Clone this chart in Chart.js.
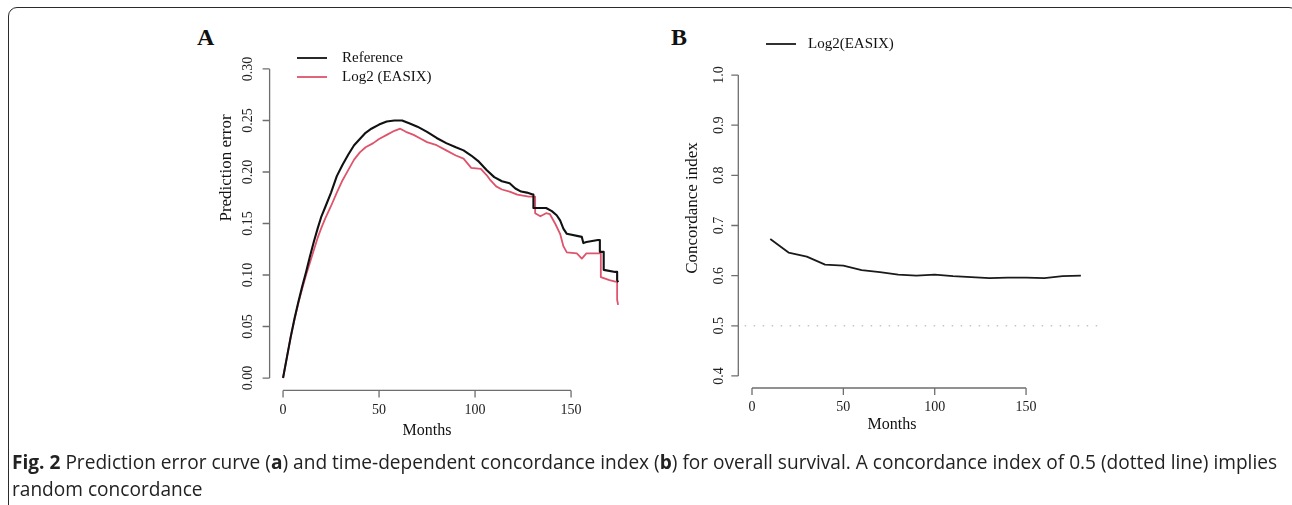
<!DOCTYPE html>
<html>
<head>
<meta charset="utf-8">
<title>Prediction error and concordance index</title>
<script src="https://cdn.jsdelivr.net/npm/chart.js"></script>
<style>
    body {
        margin: 0;
        width: 1292px;
        height: 505px;
        overflow: hidden;
        position: relative;
        background: #fff;
    }
    .frame {
        position: absolute;
        left: 8px;
        top: 7px;
        width: 1290px;
        height: 530px;
        border: 1.5px solid #2b2b2b;
        border-radius: 9px;
        box-sizing: border-box;
    }
    .panel {
        position: absolute;
        top: 20px;
        width: 480px;
        height: 430px;
    }
    #panelA { left: 180px; }
    #panelB { left: 660px; }
    .letter {
        position: absolute;
        top: 24px;
        font: bold 24px "Liberation Serif", serif;
        color: #111;
    }
    .caption {
        position: absolute;
        left: 12px;
        top: 449px;
        font: 19.1px "Open Sans", sans-serif;
        line-height: 27px;
        color: #222;
        white-space: nowrap;
    }
</style>
</head>
<body>
<div class="frame"></div>
<div class="letter" style="left:197px">A</div>
<div class="letter" style="left:671px">B</div>
<div class="panel" id="panelA"><canvas id="chartA"></canvas></div>
<div class="panel" id="panelB"><canvas id="chartB"></canvas></div>
<div class="caption"><b>Fig. 2</b> Prediction error curve (<b>a</b>) and time-dependent concordance index (<b>b</b>) for overall survival. A concordance index of 0.5 (dotted line) implies<br>random concordance</div>

<script>
// panel A: prediction error curves (repeated month = vertical drop of the step curve)
const refMonths = [0, 2, 4, 6, 8, 10, 12, 14, 16, 18, 20, 22, 25, 28, 31, 34, 37, 40, 43, 46,
    50, 54, 58, 62, 66, 70, 75, 80, 85, 90, 94, 98, 102, 106, 110, 114, 118, 121, 124, 127,
    130.4, 130.4, 137, 140, 142.5, 144.3, 146, 147.8, 155.6, 156.4, 158, 164, 165, 165, 167, 167, 173, 174, 174, 174.5];
const refError = [0, 0.020, 0.040, 0.058, 0.074, 0.089, 0.103, 0.118, 0.132, 0.145, 0.157, 0.166, 0.180, 0.196, 0.207, 0.217, 0.226, 0.232, 0.238, 0.242,
    0.246, 0.249, 0.250, 0.250, 0.247, 0.244, 0.239, 0.233, 0.228, 0.224, 0.221, 0.216, 0.210, 0.202, 0.195, 0.191, 0.189, 0.184, 0.181, 0.180,
    0.178, 0.165, 0.165, 0.162, 0.158, 0.153, 0.145, 0.140, 0.137, 0.131, 0.132, 0.134, 0.134, 0.1225, 0.1225, 0.105, 0.103, 0.103, 0.095, 0.093];

const easixMonths = [0, 2, 4, 6, 8, 10, 12, 14, 16, 18, 20, 22, 25, 28, 31, 34, 37, 40, 43, 47,
    50, 54, 58, 61, 64, 68, 72, 75, 80, 85, 90, 94, 98, 103, 106, 108, 111, 114, 118, 122,
    125, 128, 131.3, 131.3, 134, 137, 139, 141.7, 144.3, 146, 147.8, 153, 155.6, 158, 165.5, 165.5, 170, 173, 174, 174, 174.5];
const easixError = [0, 0.020, 0.040, 0.057, 0.073, 0.087, 0.100, 0.112, 0.124, 0.136, 0.146, 0.155, 0.167, 0.180, 0.192, 0.202, 0.212, 0.219, 0.224, 0.228,
    0.232, 0.236, 0.240, 0.242, 0.239, 0.236, 0.232, 0.229, 0.226, 0.221, 0.216, 0.213, 0.204, 0.203, 0.197, 0.192, 0.186, 0.183, 0.181, 0.178,
    0.177, 0.176, 0.176, 0.160, 0.157, 0.160, 0.159, 0.150, 0.140, 0.128, 0.122, 0.121, 0.116, 0.121, 0.121, 0.098, 0.095, 0.0935, 0.0935, 0.076, 0.071];

const errorTicks = [0, 0.05, 0.10, 0.15, 0.20, 0.25, 0.30];
const monthTicks = [0, 50, 100, 150];

// panel B: time-dependent concordance index
const cMonths = [10, 20, 30, 40, 50, 60, 70, 80, 90, 100, 110, 120, 130, 140, 150, 160, 170, 180];
const cIndex = [0.673, 0.646, 0.638, 0.622, 0.620, 0.611, 0.607, 0.602, 0.600, 0.602, 0.599, 0.597, 0.595, 0.596, 0.596, 0.595, 0.599, 0.600];
const randomMonths = [-4, 192];
const randomIndex = 0.5;
const cTicks = [0.4, 0.5, 0.6, 0.7, 0.8, 0.9, 1.0];

const SERIF = '"Liberation Serif", "Times New Roman", serif';
const RED = '#DF536B';

const toXY = (xs, ys) => xs.map((x, i) => ({ x: x, y: ys[i] }));

// base-R style axes: lines span first..last tick, labels parallel to axis
const rAxes = {
    id: 'rAxes',
    afterDraw(chart, args, o) {
        const { ctx, chartArea: ca } = chart;
        const x = chart.scales.x, y = chart.scales.y;
        ctx.save();
        ctx.strokeStyle = '#6e6e6e';
        ctx.lineWidth = 1.3;
        ctx.fillStyle = '#222';
        ctx.font = '14px ' + SERIF;
        ctx.textAlign = 'center';
        ctx.textBaseline = 'middle';

        // y axis
        const yp = o.yTicks.map(v => y.getPixelForValue(v));
        ctx.beginPath();
        ctx.moveTo(ca.left, yp[0]);
        ctx.lineTo(ca.left, yp[yp.length - 1]);
        yp.forEach(p => { ctx.moveTo(ca.left, p); ctx.lineTo(ca.left - 7, p); });
        // x axis
        const xp = o.xTicks.map(v => x.getPixelForValue(v));
        ctx.moveTo(xp[0], ca.bottom);
        ctx.lineTo(xp[xp.length - 1], ca.bottom);
        xp.forEach(p => { ctx.moveTo(p, ca.bottom); ctx.lineTo(p, ca.bottom + 7); });
        ctx.stroke();

        yp.forEach((p, i) => {
            ctx.save();
            ctx.translate(ca.left - o.yLabelGap, p);
            ctx.rotate(-Math.PI / 2);
            ctx.fillText(o.yFormat(o.yTicks[i]), 0, 0);
            ctx.restore();
        });
        xp.forEach((p, i) => ctx.fillText(String(o.xTicks[i]), p, ca.bottom + o.xLabelGap));

        // titles
        ctx.font = '16px ' + SERIF;
        ctx.fillStyle = '#111';
        ctx.fillText('Months', o.xTitle[0], o.xTitle[1]);
        ctx.font = '17px ' + SERIF;
        ctx.save();
        ctx.translate(o.yTitle[0], o.yTitle[1]);
        ctx.rotate(-Math.PI / 2);
        ctx.fillText(o.yTitleText, 0, 0);
        ctx.restore();

        // legend
        ctx.textAlign = 'left';
        ctx.font = '15px ' + SERIF;
        o.legend.forEach((it, i) => {
            const ds = chart.data.datasets[i];
            ctx.strokeStyle = ds.borderColor;
            ctx.lineWidth = 1.8;
            ctx.beginPath();
            ctx.moveTo(it.x, it.y);
            ctx.lineTo(it.x + 30, it.y);
            ctx.stroke();
            ctx.fillText(ds.label, it.x + it.gap, it.y);
        });
        ctx.restore();
    }
};

const baseOptions = {
    responsive: true,
    maintainAspectRatio: false,
    animation: false,
    events: [],
    plugins: { legend: { display: false }, tooltip: { enabled: false } },
    elements: { point: { radius: 0 }, line: { borderJoinStyle: 'round' } }
};

new Chart(document.getElementById('chartA'), {
    type: 'line',
    data: {
        datasets: [
            { label: 'Reference', data: toXY(refMonths, refError), borderColor: '#111', borderWidth: 2.1 },
            { label: 'Log2 (EASIX)', data: toXY(easixMonths, easixError), borderColor: RED, borderWidth: 1.8 }
        ]
    },
    options: {
        ...baseOptions,
        layout: { padding: { left: 89.6, right: 27.5, top: 36.6, bottom: 59.6 } },
        scales: {
            x: { type: 'linear', display: false, min: -7, max: 182 },
            y: { type: 'linear', display: false, min: -0.012, max: 0.312 }
        },
        plugins: {
            ...baseOptions.plugins,
            rAxes: {
                yTicks: errorTicks, xTicks: monthTicks,
                yFormat: v => v.toFixed(2),
                yLabelGap: 21, xLabelGap: 20,
                xTitle: [247, 411], yTitle: [47, 148], yTitleText: 'Prediction error',
                legend: [{ x: 117, y: 38, gap: 45 }, { x: 117, y: 57, gap: 45 }]
            }
        }
    },
    plugins: [rAxes]
});

new Chart(document.getElementById('chartB'), {
    type: 'line',
    data: {
        datasets: [
            { label: 'Log2(EASIX)', data: toXY(cMonths, cIndex), borderColor: '#1a1a1a', borderWidth: 1.8 },
            { label: 'random', data: randomMonths.map(m => ({ x: m, y: randomIndex })), borderColor: '#c4c4c4', borderWidth: 1.4, borderDash: [1.5, 7.5] }
        ]
    },
    options: {
        ...baseOptions,
        layout: { padding: { left: 78.3, right: 37.2, top: 43, bottom: 62 } },
        scales: {
            x: { type: 'linear', display: false, min: -7.5, max: 192 },
            y: { type: 'linear', display: false, min: 0.376, max: 1.024 }
        },
        plugins: {
            ...baseOptions.plugins,
            rAxes: {
                yTicks: cTicks, xTicks: monthTicks,
                yFormat: v => v.toFixed(1),
                yLabelGap: 19, xLabelGap: 19,
                xTitle: [232, 405], yTitle: [33, 188], yTitleText: 'Concordance index',
                legend: [{ x: 106, y: 24, gap: 42 }]
            }
        }
    },
    plugins: [rAxes]
});
</script>
</body>
</html>
